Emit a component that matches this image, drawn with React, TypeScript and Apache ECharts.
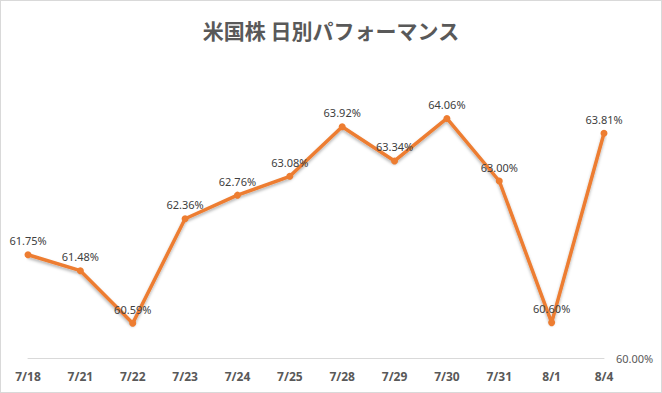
import React, { useEffect, useRef } from "react";
import * as echarts from "echarts";

const categories = ["7/18", "7/21", "7/22", "7/23", "7/24", "7/25", "7/28", "7/29", "7/30", "7/31", "8/1", "8/4"];
const values = [61.75, 61.48, 60.59, 62.36, 62.76, 63.08, 63.92, 63.34, 64.06, 63.0, 60.6, 63.81];
const title = "米国株 日別パフォーマンス";

export default function App() {
  const ref = useRef<HTMLDivElement>(null);
  useEffect(() => {
    const chart = echarts.init(ref.current!, null, { renderer: "svg" });
    chart.setOption({
      animation: false,
      backgroundColor: "#ffffff",
      title: {
        text: title,
        left: "center",
        top: 13,
        textStyle: {
          fontFamily: "Noto Sans CJK JP",
          fontSize: 21,
          fontWeight: "bold",
          color: "#595959",
        },
      },
      grid: { left: 27, right: 57, top: 62, bottom: 34 },
      xAxis: {
        type: "category",
        data: categories,
        boundaryGap: false,
        axisLine: { lineStyle: { color: "#d9d9d9", width: 1 } },
        axisTick: { show: false },
        axisLabel: {
          margin: 12,
          color: "#595959",
          fontSize: 12,
          fontWeight: "bold",
          fontFamily: "Noto Sans",
        },
      },
      yAxis: {
        type: "value",
        position: "right",
        min: 60,
        max: 65,
        interval: 1,
        splitLine: { show: false },
        axisLine: { show: false },
        axisTick: { show: false },
        axisLabel: {
          margin: 12,
          color: "#595959",
          fontSize: 11,
          fontFamily: "Noto Sans",
          formatter: (v: number) => (v === 60 ? v.toFixed(2) + "%" : ""),
        },
      },
      series: [
        {
          type: "line",
          data: values,
          symbol: "circle",
          symbolSize: 7,
          lineStyle: {
            color: "#ED7D31",
            width: 3.5,
            shadowColor: "rgba(0,0,0,0.3)",
            shadowBlur: 3,
            shadowOffsetY: 2,
          },
          itemStyle: { color: "#ED7D31" },
          label: {
            show: true,
            position: "top",
            distance: 5,
            color: "#404040",
            fontSize: 11,
            fontFamily: "Noto Sans",
            formatter: (p: any) => Number(p.value).toFixed(2) + "%",
          },
        },
      ],
    });
    return () => chart.dispose();
  }, []);
  return (
    <div
      style={{
        position: "fixed",
        left: 0,
        top: 0,
        width: 662,
        height: 393,
        boxSizing: "border-box",
        border: "1px solid #d9d9d9",
        background: "#fff",
      }}
    >
      <div ref={ref} style={{ width: 660, height: 391 }} />
    </div>
  );
}
